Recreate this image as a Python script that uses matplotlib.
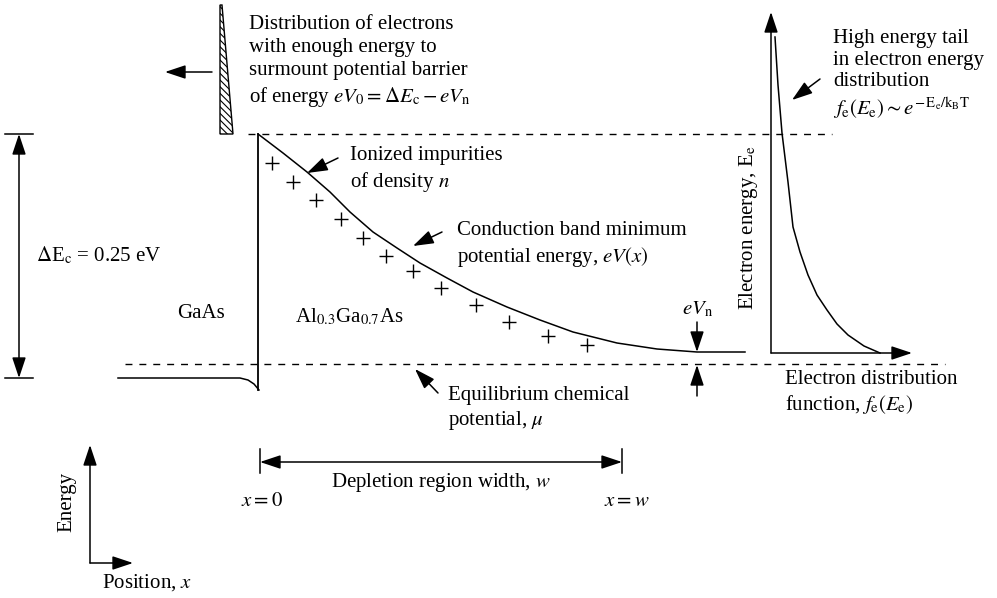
import matplotlib
matplotlib.use("Agg")
import matplotlib.pyplot as plt
from matplotlib.patches import Polygon

plt.rcParams['font.family'] = ['Liberation Serif', 'DejaVu Serif']
plt.rcParams['mathtext.fontset'] = 'stix'
plt.rcParams['hatch.linewidth'] = 0.8

# ---- data (pixel-space schematic coordinates) ----
band_x = [258, 283, 307, 330, 350, 373, 397, 420, 447, 473, 507, 540, 573, 617, 657, 697, 745]
band_y = [134, 153, 172, 192, 212, 232, 248, 263, 278, 292, 307, 320, 332, 343, 349, 352, 352]
gaas_x = [118, 240, 248, 254, 259]
gaas_y = [378, 378, 380, 384, 390]
plus_x = [272, 293, 316, 341, 363, 386, 413, 441, 476, 509, 548, 587]
plus_y = [163, 182, 200, 219, 238, 256, 271, 288, 305, 322, 336, 345]
dist_x = [775, 778, 782, 788, 793, 800, 808, 817, 827, 837, 848, 864, 880]
dist_y = [37, 85, 133, 182, 227, 252, 275, 295, 310, 324, 335, 346, 353]
wedge_x = [220, 222, 233, 220]
wedge_y = [5, 5, 134, 134]

FS = 15
LS = 1.27
fig = plt.figure(figsize=(9.97, 5.98), dpi=100)
ax = fig.add_axes([0, 0, 1, 1])
ax.set_xlim(0, 997)
ax.set_ylim(598, 0)
ax.axis('off')

lw = 1.1
K = 'black'

def arrow(x0, y0, x1, y1, style='-|>', ms=14):
    ax.annotate('', xy=(x1, y1), xytext=(x0, y0),
                arrowprops=dict(arrowstyle=style + ',head_length=0.9,head_width=0.3',
                                color=K, lw=lw, shrinkA=0, shrinkB=0,
                                mutation_scale=ms))

# dashed levels
ax.plot([248, 832], [134, 134], ls=(0, (5, 5)), color=K, lw=1.0)
ax.plot([125, 945], [364, 364], ls=(0, (5, 5)), color=K, lw=1.0)

# band profile
ax.plot(band_x, band_y, color=K, lw=lw)
ax.plot([258, 258], [390, 134], color=K, lw=1.3)
ax.plot(gaas_x, gaas_y, color=K, lw=lw)
ax.plot(plus_x, plus_y, ls='none', marker='+', ms=10, mew=1.0, color=K)

# hatched wedge
ax.add_patch(Polygon(list(zip(wedge_x, wedge_y)), closed=True, facecolor='white',
                     edgecolor=K, hatch='\\\\\\\\\\', lw=1.0))
arrow(212, 72, 165, 72)

# Delta Ec marker
ax.plot([5, 33], [134, 134], color=K, lw=lw)
ax.plot([5, 33], [378, 378], color=K, lw=lw)
ax.annotate('', xy=(19, 134), xytext=(19, 378),
            arrowprops=dict(arrowstyle='<|-|>,head_length=0.9,head_width=0.3', color=K,
                            lw=lw, shrinkA=0, shrinkB=0, mutation_scale=14))

# texts
ax.text(249, 62, 'Distribution of electrons\nwith enough energy to\nsurmount potential barrier\n'
        r'of energy $eV_0 = \Delta E_\mathrm{c} - eV_\mathrm{n}$',
        fontsize=FS, va='center', ha='left', linespacing=LS)
ax.text(36, 255, r'$\Delta$E$_\mathrm{c}$ = 0.25 eV', fontsize=FS, va='center', ha='left')
ax.text(177, 313, 'GaAs', fontsize=FS, va='center', ha='left')
ax.text(295, 317, r'Al$_{0.3}$Ga$_{0.7}$As', fontsize=FS, va='center', ha='left')
ax.text(350, 170, 'Ionized impurities\nof density $n$', fontsize=FS, va='center', ha='left',
        linespacing=LS)
arrow(338, 158, 307, 173)
ax.text(457, 245, 'Conduction band minimum\npotential energy, $eV(x)$', fontsize=FS,
        va='center', ha='left', linespacing=LS)
arrow(442, 232, 413, 246)
ax.text(682, 309, r'$eV_\mathrm{n}$', fontsize=FS, va='center', ha='left')
arrow(697, 322, 697, 352)
arrow(697, 396, 697, 365)
ax.text(448, 409, 'Equilibrium chemical\npotential, $\\mu$', fontsize=FS, va='center',
        ha='left', linespacing=LS)
arrow(438, 393, 415, 369)

# depletion width
ax.plot([260, 260], [449, 473], color=K, lw=lw)
ax.plot([622, 622], [449, 473], color=K, lw=lw)
ax.annotate('', xy=(260, 462), xytext=(622, 462),
            arrowprops=dict(arrowstyle='<|-|>,head_length=0.9,head_width=0.3', color=K,
                            lw=lw, shrinkA=0, shrinkB=0, mutation_scale=14))
ax.text(441, 482, 'Depletion region width, $w$', fontsize=FS, va='center', ha='center')
ax.text(262, 502, r'$x = 0$', fontsize=FS, va='center', ha='center')
ax.text(627, 502, r'$x = w$', fontsize=FS, va='center', ha='center')

# energy / position axes
arrow(90, 563, 90, 445)
arrow(90, 563, 133, 563)
ax.text(67, 502, 'Energy', fontsize=FS, va='center', ha='center', rotation=90)
ax.text(102, 583, 'Position, $x$', fontsize=FS, va='center', ha='left')

# right panel: distribution function
arrow(771, 353, 771, 12)
arrow(771, 353, 912, 353)
ax.plot(dist_x, dist_y, color=K, lw=lw)
ax.text(748, 228, r'Electron energy, E$_\mathrm{e}$', fontsize=FS, va='center',
        ha='center', rotation=90)
ax.text(833, 75, 'High energy tail\nin electron energy\ndistribution\n'
        r'$f_\mathrm{e}(E_\mathrm{e}) \sim e^{-\,\mathrm{E_e/k_B T}}$',
        fontsize=FS, va='center', ha='left', linespacing=1.18)
arrow(820, 79, 792, 100)
ax.text(785, 393, 'Electron distribution\nfunction, $f_\\mathrm{e}(E_\\mathrm{e})$',
        fontsize=FS, va='center', ha='left', linespacing=LS)

fig.savefig('out.png', dpi=100, facecolor='white')
